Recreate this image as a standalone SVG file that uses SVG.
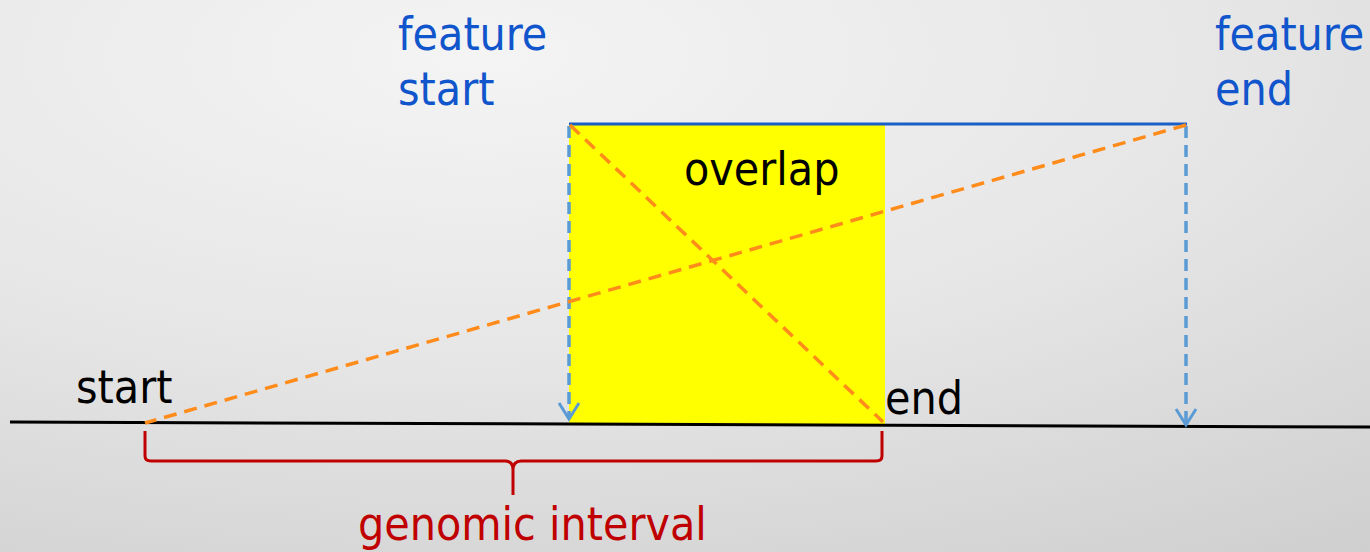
<svg xmlns="http://www.w3.org/2000/svg" width="1370" height="552" viewBox="0 0 1370 552">
<defs>
<radialGradient id="bg" cx="0.35" cy="0.1" r="1.1">
<stop offset="0" stop-color="#f4f4f4"/>
<stop offset="0.5" stop-color="#e6e6e6"/>
<stop offset="1" stop-color="#cfcfcf"/>
</radialGradient>
<marker id="arr" viewBox="0 0 24 24" refX="20" refY="12" markerWidth="24" markerHeight="24" markerUnits="userSpaceOnUse" orient="auto">
<path d="M4 2 L20 12 L4 22" fill="none" stroke="#5b9bd5" stroke-width="3"/>
</marker>
<style>
.t{font-family:"DejaVu Sans Condensed","DejaVu Sans",sans-serif;font-size:46px}
.blue{fill:#1155cc}
.blk{fill:#000}
.red{fill:#c00000}
.orange{stroke:#ff8c1a;stroke-width:3.5;stroke-dasharray:13 8;fill:none}
.vdash{stroke:#5b9bd5;stroke-width:3.5;stroke-dasharray:12 7;fill:none}
</style>
</defs>
<rect width="1370" height="552" fill="url(#bg)"/>
<g id="overlap">
<rect x="569" y="124" width="316" height="300" fill="#ffff00"/>
<text class="t blk" x="684" y="185">overlap</text>
</g>
<g id="genome-line">
<line x1="10" y1="422" x2="1370" y2="427" stroke="#000" stroke-width="3"/>
</g>
<g id="feature">
<line x1="569" y1="124" x2="1187" y2="124" stroke="#1a5fc8" stroke-width="3"/>
</g>
<g id="connectors">
<line class="vdash" x1="569" y1="126" x2="569" y2="419" marker-end="url(#arr)"/>
<line class="vdash" x1="1186" y1="126" x2="1186" y2="425" marker-end="url(#arr)"/>
<line class="orange" x1="570" y1="125" x2="883" y2="422"/>
<line class="orange" x1="1186" y1="125" x2="145" y2="423"/>
</g>
<g id="feature-start-label"><text class="t blue" x="398" y="50">feature</text><text class="t blue" x="398" y="105">start</text></g>
<g id="feature-end-label"><text class="t blue" x="1215" y="50">feature</text><text class="t blue" x="1215" y="105">end</text></g>
<g id="start-label"><text class="t blk" x="76" y="403">start</text></g>
<g id="end-label"><text class="t blk" x="885" y="414">end</text></g>
<g id="interval">
<path d="M145 431 V456 Q145 461 151 461 H505 Q513 461 513 470 V495 M513 470 Q513 461 521 461 H876 Q882 461 882 456 V431" fill="none" stroke="#c00000" stroke-width="3"/>
<text class="t red" x="358" y="540">genomic interval</text>
</g>
</svg>
